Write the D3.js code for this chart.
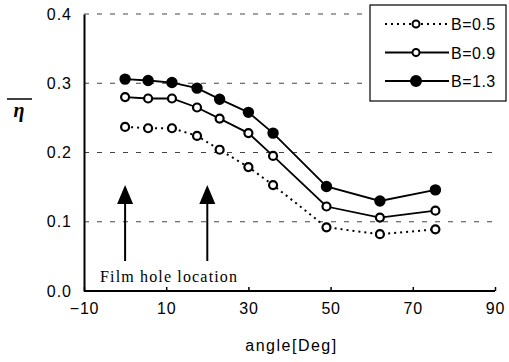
<!DOCTYPE html>
<html><head><meta charset="utf-8">
<script src="https://cdn.jsdelivr.net/npm/d3@7/dist/d3.min.js"></script>
<style>body{margin:0;background:#fff}svg{display:block}</style>
</head><body>
<script>
const angles = [0, 5.6, 11.4, 17.5, 23, 30, 36, 49, 62, 75.5];
const seriesNames = ["B=0.5", "B=0.9", "B=1.3"];
const b05 = [0.237, 0.235, 0.235, 0.224, 0.204, 0.179, 0.153, 0.092, 0.082, 0.089];
const b09 = [0.280, 0.278, 0.278, 0.265, 0.249, 0.228, 0.195, 0.122, 0.106, 0.116];
const b13 = [0.306, 0.304, 0.301, 0.293, 0.277, 0.258, 0.228, 0.151, 0.130, 0.146];
const xTicks = [-10, 10, 30, 50, 70, 90];
const yTicks = [0.0, 0.1, 0.2, 0.3, 0.4];
const arrowAngles = [0, 20];
const annotation = "Film hole location";
const xTitle = "angle[Deg]";

const W = 509, H = 362;
const SANS = "Liberation Sans, Arial, sans-serif";
const svg = d3.select("body").append("svg").attr("width", W).attr("height", H);
const x = d3.scaleLinear().domain([-10, 90]).range([84, 495]);
const y = d3.scaleLinear().domain([0, 0.4]).range([291, 14]);

// gridlines
svg.append("g").selectAll("line").data(yTicks.filter(d => d > 0)).join("line")
  .attr("x1", x(-10)).attr("x2", x(90) + 2)
  .attr("y1", d => y(d)).attr("y2", d => y(d))
  .attr("stroke", "#444").attr("stroke-width", 1).attr("stroke-dasharray", "5,8");

// x axis
const xAxis = d3.axisBottom(x).tickValues(xTicks).tickSize(-4).tickPadding(12)
  .tickFormat(d => d < 0 ? "\u2212" + Math.abs(d) : d);
const gx = svg.append("g").attr("transform", `translate(0,${y(0)})`).call(xAxis);
gx.select(".domain").attr("stroke", "#000").attr("stroke-width", 2).attr("d", `M${x(-10)},0H${x(90)}`);
gx.selectAll(".tick line").attr("stroke", "#000").attr("stroke-width", 1.5);
gx.selectAll(".tick text").attr("font-family", SANS)
  .attr("font-size", 16).attr("letter-spacing", 0.8).attr("fill", "#000");

// y axis
const yAxis = d3.axisLeft(y).tickValues(yTicks).tickSize(0).tickPadding(12)
  .tickFormat(d3.format(".1f"));
const gy = svg.append("g").attr("transform", `translate(${x(-10)},0)`).call(yAxis);
gy.select(".domain").attr("stroke", "#000").attr("stroke-width", 2);
gy.selectAll(".tick text").attr("font-family", SANS)
  .attr("font-size", 16).attr("letter-spacing", 1).attr("fill", "#000");

// axis titles
svg.append("text").attr("x", (x(-10) + x(90)) / 2 + 2).attr("y", 351)
  .attr("text-anchor", "middle").attr("font-family", SANS)
  .attr("font-size", 16).attr("letter-spacing", 1.5).text(xTitle);
svg.append("line").attr("x1", 7).attr("x2", 32).attr("y1", 99).attr("y2", 99)
  .attr("stroke", "#000").attr("stroke-width", 1.5);
svg.append("text").attr("x", 19).attr("y", 117).attr("text-anchor", "middle")
  .attr("font-family", "Liberation Serif, Times New Roman, serif").attr("font-style", "italic")
  .attr("font-weight", "bold").attr("font-size", 20).text("\u03B7");

// arrows
const ag = svg.append("g");
arrowAngles.forEach(a => {
  ag.append("line").attr("x1", x(a)).attr("x2", x(a)).attr("y1", 261).attr("y2", 200)
    .attr("stroke", "#000").attr("stroke-width", 2);
  ag.append("path").attr("d", `M${x(a)},185L${x(a) - 8},204L${x(a) + 8},204Z`).attr("fill", "#000");
});
svg.append("text").attr("x", 100).attr("y", 282)
  .attr("font-family", "Liberation Serif, Times New Roman, serif").attr("font-size", 16)
  .attr("textLength", 137).attr("lengthAdjust", "spacing").text(annotation);

// series
const series = [
  {name: seriesNames[0], vals: b05, dash: "2,4", fill: "#fff"},
  {name: seriesNames[1], vals: b09, dash: null, fill: "#fff"},
  {name: seriesNames[2], vals: b13, dash: null, fill: "#000"}
];
const line = d3.line().x(d => x(d[0])).y(d => y(d[1]));
series.forEach(s => {
  const pts = angles.map((a, i) => [a, s.vals[i]]);
  svg.append("path").datum(pts).attr("d", line).attr("fill", "none")
    .attr("stroke", "#000").attr("stroke-width", s.dash ? 2 : 1.8)
    .attr("stroke-dasharray", s.dash);
  svg.append("g").selectAll("circle").data(pts).join("circle")
    .attr("cx", d => x(d[0])).attr("cy", d => y(d[1]))
    .attr("r", s.fill === "#000" ? 4.6 : 4)
    .attr("fill", s.fill).attr("stroke", "#000").attr("stroke-width", 2.2);
});

// legend
const lg = svg.append("g");
lg.append("rect").attr("x", 370).attr("y", 5).attr("width", 136).attr("height", 96)
  .attr("fill", "#fff").attr("stroke", "#000").attr("stroke-width", 1.2);
series.forEach((s, i) => {
  const ly = 24 + i * 28.5;
  lg.append("line").attr("x1", 385).attr("x2", 449).attr("y1", ly).attr("y2", ly)
    .attr("stroke", "#000").attr("stroke-width", s.dash ? 2 : 1.8).attr("stroke-dasharray", s.dash);
  lg.append("circle").attr("cx", 416).attr("cy", ly).attr("r", s.fill === "#000" ? 5 : 3.5)
    .attr("fill", s.fill).attr("stroke", "#000").attr("stroke-width", 2);
  lg.append("text").attr("x", 451).attr("y", ly + 6).attr("font-family", SANS)
    .attr("font-size", 16).attr("letter-spacing", 0.5).text(s.name);
});
</script>
</body></html>
